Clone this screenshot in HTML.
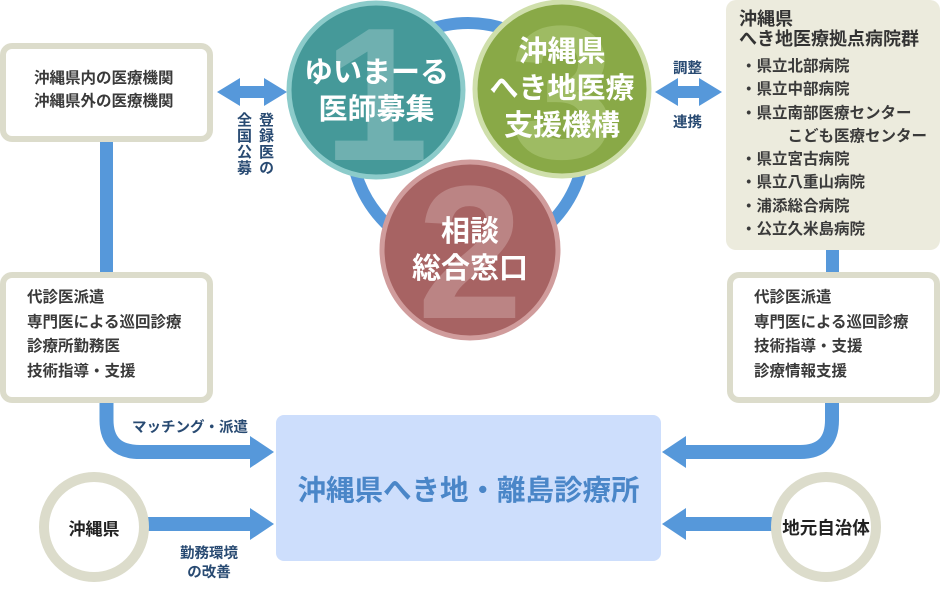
<!DOCTYPE html>
<html><head><meta charset="utf-8"><style>
body{margin:0;width:940px;height:593px;position:relative;background:#fff;overflow:hidden;font-family:"Liberation Sans","Noto Sans CJK JP",sans-serif;font-weight:bold}
.t{position:absolute;white-space:nowrap}
.box{position:absolute;background:#fff;border:6px solid #dcdccb;border-radius:12px;box-sizing:border-box}
.dk{color:#3a3a3a;font-size:15.5px;line-height:24.5px}
.w{color:#fff;text-align:center;font-size:29px;line-height:37px}
.nv{color:#284a72;font-size:14.5px}
</style></head><body>
<svg width="940" height="593" style="position:absolute;left:0;top:0">
<circle cx="468" cy="140" r="117" fill="none" stroke="#5698da" stroke-width="12"/>
<rect x="100" y="140" width="13" height="135" fill="#5698da"/>
<path d="M106.5 400 V420 Q106.5 452 140 452 H252" fill="none" stroke="#5698da" stroke-width="14"/>
<polygon points="250,436 274,452 250,468" fill="#5698da"/>
<rect x="145" y="517" width="108" height="14" fill="#5698da"/>
<polygon points="250,508 274,524 250,540" fill="#5698da"/>
<rect x="826" y="250" width="13" height="28" fill="#5698da"/>
<path d="M832 400 V420 Q832 452 800 452 H683" fill="none" stroke="#5698da" stroke-width="14"/>
<polygon points="686,436 662,452 686,468" fill="#5698da"/>
<rect x="684" y="517" width="90" height="14" fill="#5698da"/>
<polygon points="686,508 662,524 686,540" fill="#5698da"/>
<rect x="235" y="86" width="36" height="12" fill="#5698da"/>
<polygon points="240,78 217,92 240,106" fill="#5698da"/>
<polygon points="264,78 287,92 264,106" fill="#5698da"/>
<rect x="672" y="86" width="30" height="12" fill="#5698da"/>
<polygon points="678,78 655,92 678,106" fill="#5698da"/>
<polygon points="699,78 722,92 699,106" fill="#5698da"/>
<circle cx="94" cy="527" r="50" fill="#fff" stroke="#dcdccb" stroke-width="10"/>
<circle cx="826" cy="527" r="50" fill="#fff" stroke="#dcdccb" stroke-width="10"/>
<circle cx="376" cy="90" r="87" fill="#459999" stroke="#8ccbca" stroke-width="5"/>
<text x="376" y="160" text-anchor="middle" font-size="190" font-weight="bold" fill="#6fb0b0" font-family="Liberation Sans">1</text>
<circle cx="562" cy="89" r="87" fill="#89a947" stroke="#cfdfab" stroke-width="5"/>
<text x="562" y="158" text-anchor="middle" font-size="190" font-weight="bold" fill="#9ebb63" font-family="Liberation Sans">3</text>
<circle cx="470" cy="250" r="88" fill="#a76363" stroke="#d09c9c" stroke-width="5"/>
<text x="470" y="318" text-anchor="middle" font-size="190" font-weight="bold" fill="#bb8484" font-family="Liberation Sans">2</text>
</svg>
<div class="box" style="left:0;top:43px;width:213px;height:99px"></div>
<div class="t dk" style="left:34px;top:67px;line-height:23px">沖縄県内の医療機関<br>沖縄県外の医療機関</div>
<div class="box" style="left:0;top:272px;width:213px;height:131px"></div>
<div class="t dk" style="left:27px;top:286px">代診医派遣<br>専門医による巡回診療<br>診療所勤務医<br>技術指導・支援</div>
<div class="box" style="left:727px;top:272px;width:213px;height:131px"></div>
<div class="t dk" style="left:754px;top:286px">代診医派遣<br>専門医による巡回診療<br>技術指導・支援<br>診療情報支援</div>
<div style="position:absolute;left:726px;top:0;width:214px;height:250px;background:#ecebdd;border-radius:10px"></div>
<div class="t" style="left:739px;top:9px;font-size:18px;line-height:20px;color:#333">沖縄県<br>へき地医療拠点病院群</div>
<div class="t dk" style="left:741px;top:55px;line-height:23.3px">・県立北部病院<br>・県立中部病院<br>・県立南部医療センター<br>　　　こども医療センター<br>・県立宮古病院<br>・県立八重山病院<br>・浦添総合病院<br>・公立久米島病院</div>
<div class="t nv" style="left:232px;top:112px;writing-mode:vertical-rl;line-height:22px;font-size:15px;letter-spacing:1px">登録医の<br>全国公募</div>
<div class="t nv" style="left:673px;top:57px">調整</div>
<div class="t nv" style="left:673px;top:111px">連携</div>
<div class="t nv" style="left:132px;top:416px">マッチング・派遣</div>
<div class="t nv" style="left:180px;top:545px;text-align:center;line-height:19px">勤務環境<br>の改善</div>
<div class="t w" style="left:289px;top:55px;width:175px">ゆいまーる<br>医師募集</div>
<div class="t w" style="left:474px;top:34px;width:176px">沖縄県<br>へき地医療<br>支援機構</div>
<div class="t w" style="left:382px;top:214px;width:176px">相談<br>総合窓口</div>
<div style="position:absolute;left:276px;top:415px;width:385px;height:146px;background:#cddefc;border-radius:8px"></div>
<div class="t" style="left:276px;top:468px;width:385px;text-align:center;font-size:28.5px;color:#4a86c8">沖縄県へき地・離島診療所</div>
<div class="t" style="left:44px;top:515px;width:100px;text-align:center;font-size:17px;color:#222">沖縄県</div>
<div class="t" style="left:776px;top:515px;width:100px;text-align:center;font-size:17.5px;color:#222">地元自治体</div>
</body></html>
